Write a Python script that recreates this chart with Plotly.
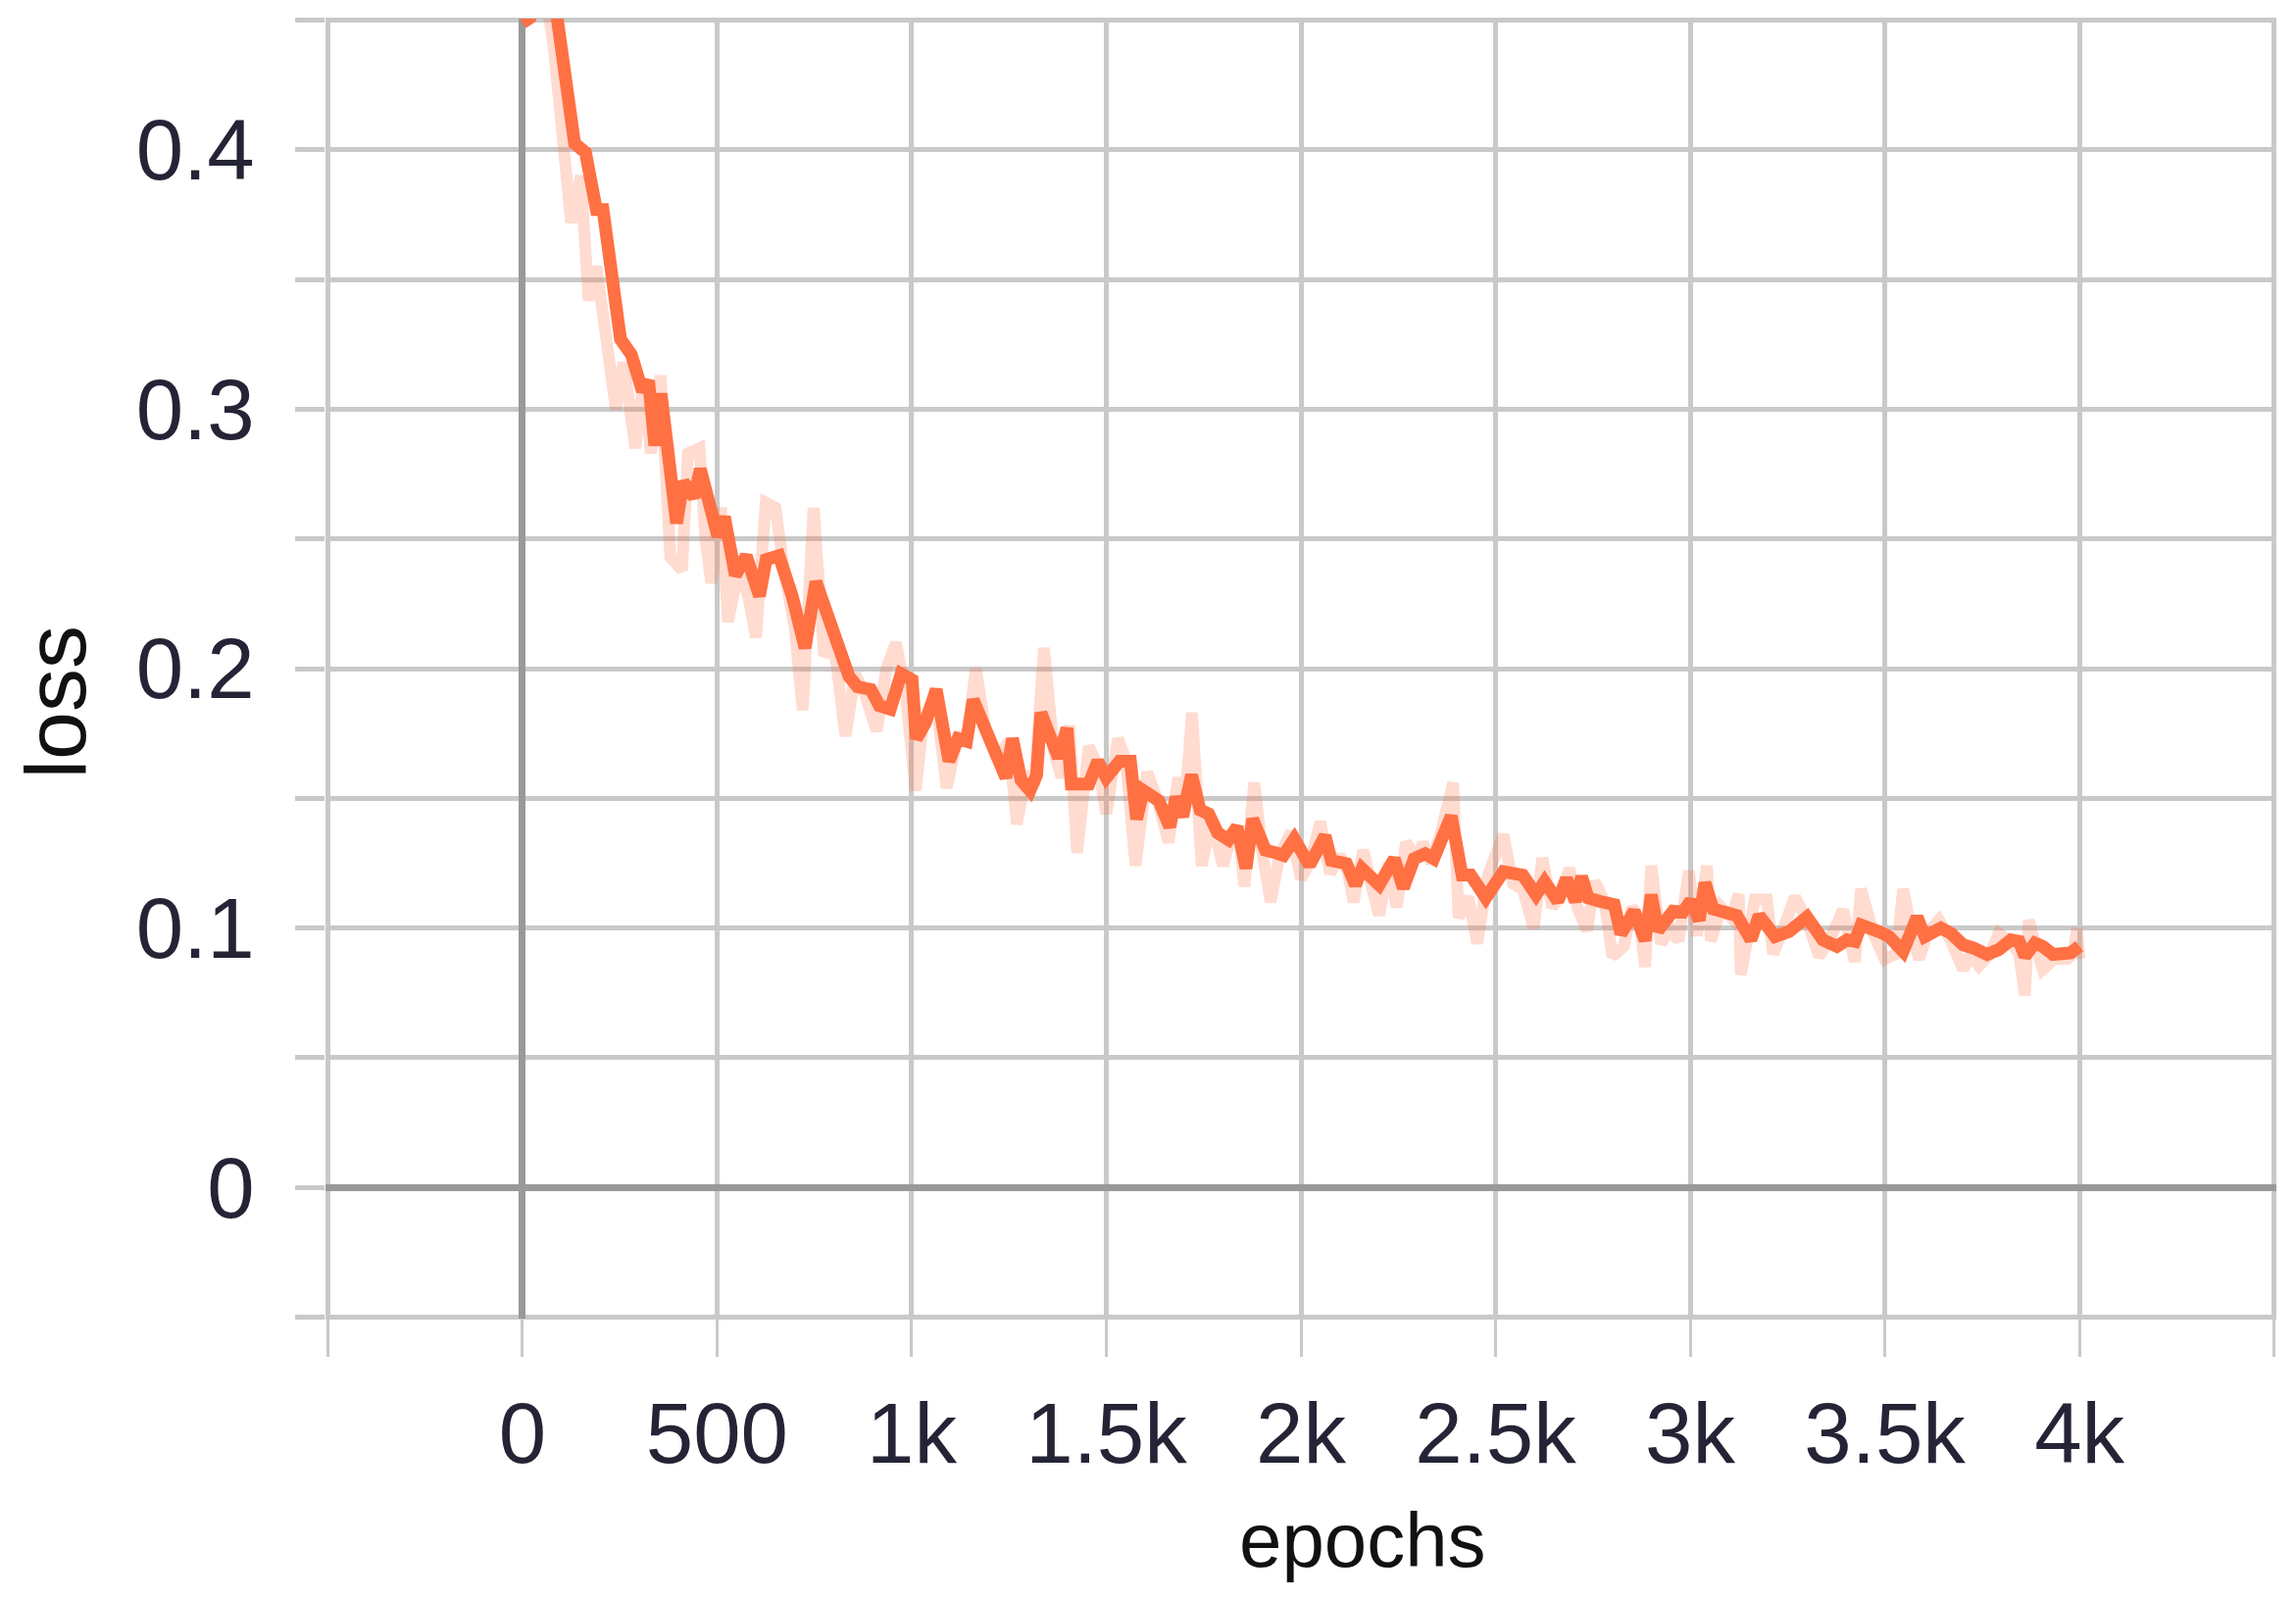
import plotly.graph_objects as go

# ---- data ----
smooth_epochs = [0, 20, 45, 70, 90, 134, 162, 190, 207, 252, 280, 308, 324, 340, 356, 396, 413, 441, 457,
                 502, 519, 547, 575, 609, 626, 659, 693, 726, 754, 788, 839, 861, 895, 917, 945, 973,
                 1001, 1012, 1035, 1063, 1096, 1119, 1141, 1158, 1192, 1242, 1259, 1281, 1304, 1321, 1332,
                 1377, 1399, 1410, 1455, 1478, 1500, 1534, 1562, 1578, 1595, 1635, 1663, 1679, 1696, 1719,
                 1741, 1763, 1786, 1814, 1836, 1859, 1876, 1909, 1934, 1955, 1983, 2022, 2062, 2078, 2117,
                 2140, 2157, 2201, 2240, 2263, 2291, 2319, 2341, 2386, 2414, 2436, 2475, 2520, 2570, 2604,
                 2626, 2660, 2682, 2705, 2721, 2738, 2766, 2805, 2822, 2856, 2884, 2900, 2917, 2956, 2981,
                 3002, 3023, 3038, 3059, 3120, 3156, 3177, 3218, 3254, 3300, 3341, 3377, 3403, 3423, 3439,
                 3485, 3511, 3547, 3583, 3603, 3644, 3670, 3701, 3727, 3763, 3793, 3824, 3845, 3860, 3886,
                 3906, 3932, 3958, 3978, 4000]
smooth_loss = [0.449, 0.451, 0.465, 0.47, 0.45, 0.4025, 0.399, 0.377, 0.377, 0.327, 0.321, 0.307, 0.311,
               0.286, 0.306, 0.256, 0.272, 0.266, 0.277, 0.251, 0.2585, 0.236, 0.2435, 0.228, 0.242,
               0.2435, 0.228, 0.208, 0.2335, 0.218, 0.197, 0.193, 0.192, 0.1857, 0.1844, 0.198, 0.1957,
               0.173, 0.179, 0.192, 0.1643, 0.173, 0.172, 0.188, 0.1756, 0.158, 0.173, 0.157, 0.153,
               0.159, 0.183, 0.1656, 0.177, 0.1555, 0.1555, 0.1643, 0.158, 0.1643, 0.1643, 0.142, 0.153,
               0.149, 0.139, 0.1505, 0.143, 0.159, 0.1455, 0.144, 0.1367, 0.134, 0.139, 0.123, 0.142,
               0.130, 0.129, 0.128, 0.1343, 0.1242, 0.1355, 0.126, 0.1248, 0.1166, 0.1229, 0.1166,
               0.1267, 0.1154, 0.1267, 0.1286, 0.1267, 0.1431, 0.1204, 0.1204, 0.1116, 0.1217, 0.1204,
               0.1128, 0.1179, 0.1103, 0.1191, 0.1103, 0.1198, 0.1116, 0.1103, 0.109, 0.0977, 0.1065,
               0.0952, 0.1128, 0.099, 0.1065, 0.1061, 0.1105, 0.103, 0.1174, 0.1073, 0.1048, 0.0954,
               0.1048, 0.0967, 0.0986, 0.1042, 0.0954, 0.0929, 0.0954, 0.0948, 0.1011, 0.0986, 0.0967,
               0.091, 0.1042, 0.0967, 0.1, 0.0979, 0.0935, 0.0923, 0.0898, 0.0917, 0.0954, 0.0948,
               0.0891, 0.0942, 0.0929, 0.0898, 0.0904, 0.0904, 0.093]

raw_epochs = [0, 30, 60, 80, 100, 125, 150, 170, 190, 210, 240, 260, 290, 310, 330, 355, 380, 410, 425,
              455, 470, 485, 510, 528, 555, 580, 600, 625, 650, 670, 690, 700, 720, 748, 775, 800, 830,
              855, 880, 910, 935, 960, 985, 1010, 1030, 1060, 1090, 1120, 1140, 1165, 1190, 1220, 1250,
              1270, 1295, 1315, 1340, 1365, 1385, 1405, 1425, 1455, 1480, 1500, 1530, 1550, 1575, 1605,
              1630, 1660, 1685, 1700, 1720, 1745, 1770, 1800, 1825, 1845, 1855, 1880, 1900, 1922, 1945,
              1975, 2000, 2025, 2050, 2075, 2100, 2120, 2135, 2160, 2185, 2201, 2225, 2246, 2270, 2300,
              2313, 2335, 2360, 2391, 2405, 2430, 2453, 2480, 2520, 2545, 2570, 2598, 2620, 2645, 2665,
              2690, 2710, 2735, 2755, 2780, 2800, 2830, 2850, 2870, 2884, 2900, 2925, 2950, 2970, 2997,
              3017, 3043, 3053, 3080, 3105, 3125, 3130, 3166, 3197, 3213, 3240, 3269, 3300, 3331, 3360,
              3393, 3423, 3439, 3470, 3500, 3530, 3547, 3570, 3588, 3610, 3639, 3670, 3701, 3720, 3742,
              3770, 3793, 3820, 3845, 3860, 3870, 3890, 3906, 3935, 3968, 3985, 3994, 4000]
raw_loss = [0.47, 0.50, 0.46, 0.44, 0.41, 0.372, 0.39, 0.342, 0.355, 0.33, 0.30, 0.318, 0.285, 0.31,
            0.283, 0.313, 0.243, 0.238, 0.283, 0.285, 0.25, 0.233, 0.262, 0.218, 0.238, 0.228, 0.212,
            0.264, 0.262, 0.24, 0.225, 0.215, 0.184, 0.262, 0.205, 0.21, 0.174, 0.198, 0.19, 0.176, 0.2,
            0.21, 0.19, 0.153, 0.18, 0.19, 0.154, 0.175, 0.172, 0.2, 0.176, 0.165, 0.172, 0.14, 0.16,
            0.155, 0.208, 0.168, 0.158, 0.178, 0.129, 0.17, 0.162, 0.144, 0.173, 0.165, 0.124, 0.16,
            0.15, 0.133, 0.158, 0.143, 0.183, 0.124, 0.142, 0.124, 0.138, 0.13, 0.116, 0.156, 0.13,
            0.110, 0.128, 0.137, 0.119, 0.126, 0.141, 0.121, 0.128, 0.122, 0.110, 0.13, 0.114, 0.105,
            0.125, 0.108, 0.133, 0.126, 0.133, 0.125, 0.137, 0.156, 0.104, 0.112, 0.094, 0.12, 0.136,
            0.117, 0.115, 0.1, 0.127, 0.108, 0.112, 0.123, 0.108, 0.099, 0.118, 0.11, 0.089, 0.093,
            0.108, 0.104, 0.085, 0.124, 0.094, 0.1, 0.095, 0.122, 0.097, 0.124, 0.095, 0.108, 0.104,
            0.113, 0.082, 0.111, 0.111, 0.09, 0.1, 0.112, 0.103, 0.089, 0.096, 0.107, 0.087, 0.115,
            0.098, 0.088, 0.09, 0.115, 0.098, 0.088, 0.098, 0.103, 0.095, 0.084, 0.09, 0.0854, 0.09,
            0.098, 0.095, 0.09, 0.074, 0.103, 0.092, 0.084, 0.088, 0.088, 0.09, 0.1, 0.088]

x_tick_vals = [-500, 0, 500, 1000, 1500, 2000, 2500, 3000, 3500, 4000, 4500]
x_tick_text = ["", "0", "500", "1k", "1.5k", "2k", "2.5k", "3k", "3.5k", "4k", ""]
y_tick_vals = [-0.05, 0, 0.05, 0.1, 0.15, 0.2, 0.25, 0.3, 0.35, 0.4, 0.45]
y_tick_text = ["", "0", "", "0.1", "", "0.2", "", "0.3", "", "0.4", ""]

ORANGE = "#FF7043"
GRID = "#c9c9c9"
FONT = "Liberation Sans, Arial, sans-serif"
TICKFONT = dict(family=FONT, size=87, color="#242436")

fig = go.Figure()
fig.add_trace(go.Scatter(x=raw_epochs, y=raw_loss, mode="lines",
                         line=dict(color="rgba(255,112,67,0.25)", width=12), hoverinfo="skip"))
fig.add_trace(go.Scatter(x=smooth_epochs, y=smooth_loss, mode="lines",
                         line=dict(color=ORANGE, width=13)))

fig.update_layout(
    width=2342, height=1630,
    margin=dict(l=324, r=28, t=11, b=293),
    paper_bgcolor="white", plot_bgcolor="white",
    showlegend=False,
)
fig.update_xaxes(range=[-506, 4506], tickmode="array", tickvals=x_tick_vals, ticktext=x_tick_text,
                 showgrid=True, gridcolor=GRID, gridwidth=5,
                 zeroline=True, zerolinecolor="#999999", zerolinewidth=7,
                 ticks="outside", ticklen=38, tickwidth=3, tickcolor=GRID,
                 ticklabelstandoff=4, tickfont=TICKFONT, showline=False)
fig.update_yaxes(range=[-0.0506, 0.4506], tickmode="array", tickvals=y_tick_vals, ticktext=y_tick_text,
                 showgrid=True, gridcolor=GRID, gridwidth=5,
                 zeroline=True, zerolinecolor="#999999", zerolinewidth=7,
                 ticks="outside", ticklen=30, tickwidth=5, tickcolor=GRID,
                 ticklabelstandoff=24, tickfont=TICKFONT, showline=False)

fig.add_annotation(text="epochs", xref="paper", yref="paper", x=0.5317, y=-0.1704,
                   xanchor="center", yanchor="middle", showarrow=False,
                   font=dict(family=FONT, size=78, color="#111111"))
fig.add_annotation(text="loss", xref="paper", yref="paper", x=-0.1384, y=0.4744, textangle=-90,
                   xanchor="center", yanchor="middle", showarrow=False,
                   font=dict(family=FONT, size=88, color="#111111"))

fig.write_html("out.html")
